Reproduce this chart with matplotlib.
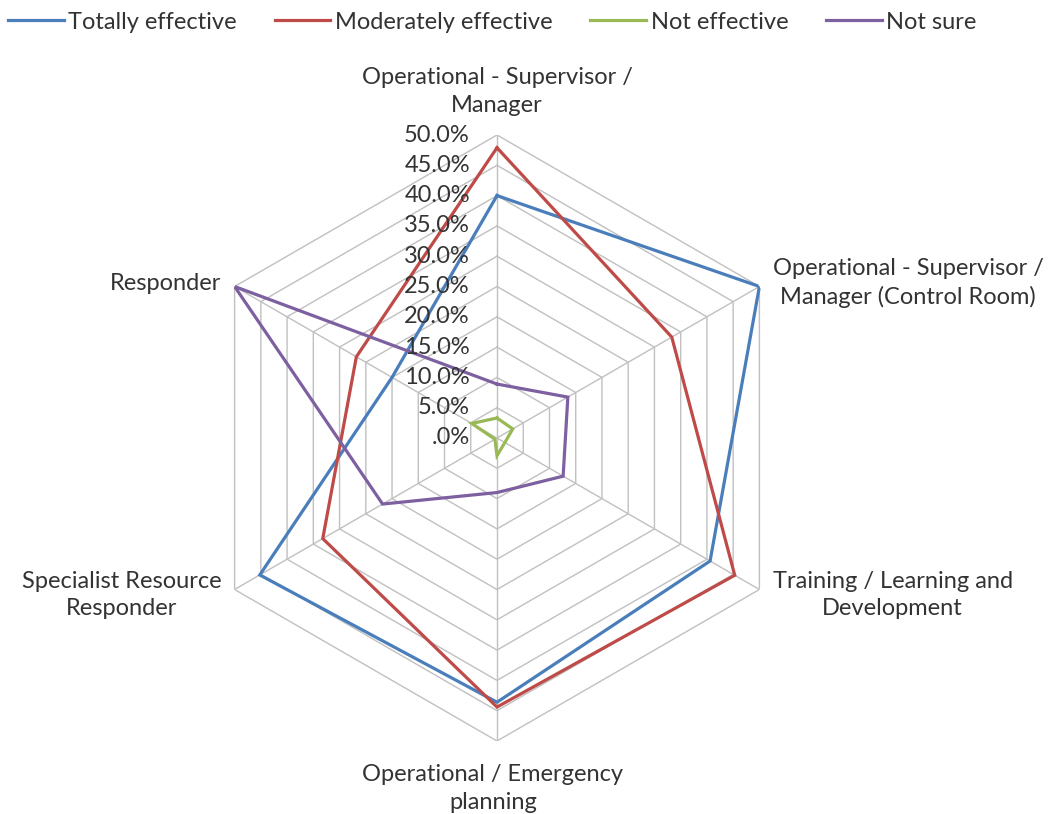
import numpy as np
import matplotlib
matplotlib.use("Agg")
import matplotlib.pyplot as plt
from matplotlib.lines import Line2D

plt.rcParams['font.family'] = ['Lato', 'DejaVu Sans']

categories = [
    "Operational - Supervisor /\nManager",
    "Operational - Supervisor /\nManager (Control Room)",
    "Training / Learning and\nDevelopment",
    "Operational / Emergency\nplanning",
    "Specialist Resource\nResponder",
    "Responder",
]
series_names = ["Totally effective", "Moderately effective", "Not effective", "Not sure"]
totally_effective = [40.0, 50.0, 40.6, 43.6, 45.2, 20.0]
moderately_effective = [47.9, 33.3, 45.3, 44.4, 33.2, 26.8]
not_effective = [3.3, 3.0, 1.5, 2.9, 0.4, 4.8]
not_sure = [8.9, 13.5, 12.6, 9.0, 21.8, 50.0]
tick_values = [0, 5, 10, 15, 20, 25, 30, 35, 40, 45, 50]
tick_labels = [".0%", "5.0%", "10.0%", "15.0%", "20.0%", "25.0%", "30.0%",
               "35.0%", "40.0%", "45.0%", "50.0%"]

colors = ["#4A7EBB", "#BE4B48", "#98B954", "#7D60A0"]
text_color = "#333333"
grid_color = "#c0c0c0"
FS = 17

W, H = 1061, 814
fig = plt.figure(figsize=(W / 100, H / 100), dpi=100)
cx, cy, R = 497, 438, 303
ax = fig.add_axes([(cx - R) / W, (H - cy - R) / H, 2 * R / W, 2 * R / H], projection='polar')
ax.set_theta_offset(np.pi / 2)
ax.set_theta_direction(-1)
ax.set_ylim(0, 50)
ax.grid(False)
ax.set_xticks([])
ax.set_yticks([])
ax.spines['polar'].set_visible(False)
ax.patch.set_alpha(0)

n = len(categories)
theta = np.arange(n) * 2 * np.pi / n
theta_closed = np.append(theta, theta[0])

# hexagonal grid
for v in tick_values[1:]:
    ax.plot(theta_closed, [v] * (n + 1), color=grid_color, lw=1.0, zorder=1)
for t in theta:
    ax.plot([t, t], [0, tick_values[-1]], color=grid_color, lw=1.0, zorder=1)

all_series = [totally_effective, moderately_effective, not_effective, not_sure]
for vals, col in zip(all_series, colors):
    vv = np.append(vals, vals[0])
    ax.plot(theta_closed, vv, color=col, lw=2.3, zorder=3, solid_joinstyle='miter')

# radial tick labels
for v, lab in zip(tick_values, tick_labels):
    ax.annotate(lab, xy=(0, v), xytext=(-19.5, 0), textcoords='offset points',
                ha='right', va='center', fontsize=FS, color=text_color, zorder=5,
                annotation_clip=False)

# category labels
label_specs = [
    dict(off=(0, 13.5), ha='center', va='bottom'),
    dict(off=(9.5, 2.5), ha='left', va='center'),
    dict(off=(9.5, -4), ha='left', va='center'),
    dict(off=(-3, -16.5), ha='center', va='top'),
    dict(off=(-9.5, -4), ha='right', va='center'),
    dict(off=(-9.5, 2.5), ha='right', va='center'),
]
for t, lab, spec in zip(theta, categories, label_specs):
    ax.annotate(lab, xy=(t, 50), xytext=spec['off'], textcoords='offset points',
                ha=spec['ha'], va=spec['va'], multialignment='center',
                fontsize=FS, color=text_color, linespacing=1.4,
                annotation_clip=False)

handles = [Line2D([0], [0], color=c, lw=2.3) for c in colors]
leg = fig.legend(handles, series_names, loc='upper left', bbox_to_anchor=(0.0, 0.996),
                 ncol=4, frameon=False, fontsize=FS, handlelength=2.35,
                 handletextpad=0.2, columnspacing=1.6, borderaxespad=0.15,
                 borderpad=0.2)
for txt in leg.get_texts():
    txt.set_color(text_color)

fig.savefig("out.png", dpi=100, facecolor='white')
